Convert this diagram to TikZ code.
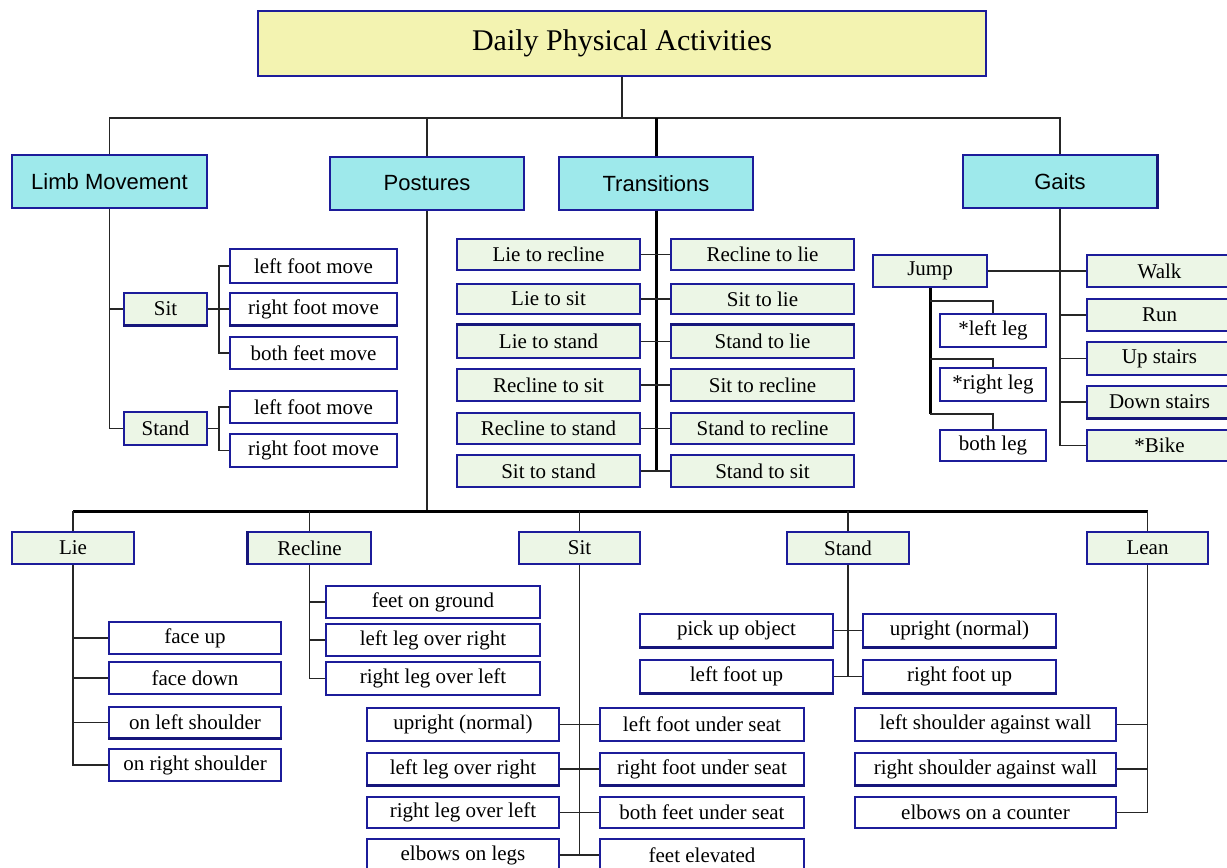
\documentclass[tikz,border=0pt]{standalone}
\usepackage{fontspec}
\setmainfont{Liberation Serif}
\setsansfont{Liberation Sans}
\definecolor{bordc}{HTML}{1C1C9A}
\definecolor{cyanc}{HTML}{9EE9EB}
\definecolor{greenc}{HTML}{ECF6E6}
\definecolor{yellowc}{HTML}{F3F3B1}
\newcommand\mybox[7]{\node[#6,minimum width={#4-#2},minimum height={#5-#3}] (#1) at ({(#2+#4)/2},{(#3+#5)/2}) {#7};}
\begin{document}
\begin{tikzpicture}[x=1pt,y=-1pt,
  base/.style={draw=bordc,line width=1.3pt,inner sep=0pt,font=\fontsize{21}{24}\selectfont},
  hdr/.style={base,fill=cyanc,font=\sffamily\fontsize{22}{26}\selectfont},
  grn/.style={base,fill=greenc},
  wht/.style={base,fill=white},
  ttl/.style={base,fill=yellowc,font=\fontsize{30}{34}\selectfont},
  conn/.style={line width=1.3pt,draw=black!85},
  thk/.style={line width=3pt,draw=black},
  edge/.style={line width=3pt,draw=bordc!80!black}]
\useasboundingbox (0,0) rectangle (1227,868);
% title and headers
\mybox{title}{258}{11}{986}{76}{ttl}{Daily Physical Activities}
\mybox{limb}{12}{155}{207}{208}{hdr}{Limb Movement}
\mybox{post}{330}{157}{524}{210}{hdr}{Postures}
\mybox{trans}{559}{157}{753}{210}{hdr}{Transitions}
\mybox{gaits}{963}{155}{1157}{208}{hdr}{Gaits}
\coordinate (tb) at (622,118);
\draw[conn] (title.south) -- (tb);
\draw[conn] (limb.north) -- (limb.north |- tb) -- (gaits.north |- tb) -- (gaits.north);
\draw[conn] (post.north) -- (post.north |- tb);
\draw[thk] (trans.north) -- (trans.north |- tb);
% limb movement
\mybox{lsit}{124}{293}{207}{325}{grn}{Sit}
\mybox{lstand}{124}{412}{207}{445}{grn}{Stand}
\mybox{lc1}{230}{249}{397}{283}{wht}{left foot move}
\mybox{lc2}{230}{293}{397}{325}{wht}{right foot move}
\mybox{lc3}{230}{337}{397}{369}{wht}{both feet move}
\mybox{ls1}{230}{391}{397}{423}{wht}{left foot move}
\mybox{ls2}{230}{434}{397}{467}{wht}{right foot move}
\draw[conn] (limb.south) |- (lsit.west);
\draw[conn] (limb.south) |- (lstand.west);
\draw[conn] (lsit.east) -- (lc2.west);
\coordinate (sj) at (219,309);
\draw[conn] (lc1.west) -| (sj) |- (lc3.west);
\coordinate (tj) at (219,428.5);
\draw[conn] (lstand.east) -- (tj);
\draw[conn] (ls1.west) -| (tj) |- (ls2.west);
% transitions
\mybox{t1l}{457}{239}{640}{270}{grn}{Lie to recline}
\mybox{t2l}{457}{284}{640}{314}{grn}{Lie to sit}
\mybox{t3l}{457}{325}{640}{358}{grn}{Lie to stand}
\mybox{t4l}{457}{369}{640}{401}{grn}{Recline to sit}
\mybox{t5l}{457}{413}{640}{444}{grn}{Recline to stand}
\mybox{t6l}{457}{455}{640}{487}{grn}{Sit to stand}
\mybox{t1r}{671}{239}{854}{270}{grn}{Recline to lie}
\mybox{t2r}{671}{284}{854}{314}{grn}{Sit to lie}
\mybox{t3r}{671}{325}{854}{358}{grn}{Stand to lie}
\mybox{t4r}{671}{369}{854}{401}{grn}{Sit to recline}
\mybox{t5r}{671}{413}{854}{444}{grn}{Stand to recline}
\mybox{t6r}{671}{455}{854}{487}{grn}{Stand to sit}
\draw[thk] (trans.south) -- (trans.south |- t6l.east);
\foreach \i in {1,...,6}{\draw[conn] (t\i l.east) -- (t\i r.west);}
% gaits
\mybox{jump}{873}{255}{987}{287}{grn}{Jump}
\mybox{walk}{1087}{255}{1232}{287}{grn}{Walk}
\mybox{run}{1087}{299}{1232}{331}{grn}{Run}
\mybox{up}{1087}{342}{1232}{375}{grn}{Up stairs}
\mybox{down}{1087}{386}{1232}{418}{grn}{Down stairs}
\mybox{bike}{1087}{430}{1232}{461}{grn}{*Bike}
\mybox{jl}{940}{314}{1046}{347}{wht}{*left leg}
\mybox{jr}{940}{368}{1046}{401}{wht}{*right leg}
\mybox{jb}{940}{430}{1046}{461}{wht}{both leg}
\draw[conn] (gaits.south) |- (bike.west);
\draw[conn] (jump.east) -- (walk.west);
\foreach \n in {run,up,down}{\draw[conn] (gaits.south |- \n.west) -- (\n.west);}
\coordinate (j1) at (930,301);
\coordinate (j2) at (930,359);
\coordinate (j3) at (930,414);
\draw[thk] (jump.south) -- (j3);
\draw[conn] (j1) -| (jl.north);
\draw[conn] (j2) -| (jr.north);
\draw[conn] (j3) -| (jb.north);
% postures
\mybox{plie}{12}{532}{134}{564}{grn}{Lie}
\mybox{prec}{248}{532}{371}{564}{grn}{Recline}
\mybox{psit}{519}{532}{640}{564}{grn}{Sit}
\mybox{pstand}{787}{532}{909}{564}{grn}{Stand}
\mybox{plean}{1087}{532}{1208}{564}{grn}{Lean}
\coordinate (pb) at (427,511);
\draw[conn] (post.south) -- (pb);
\draw[thk] (plie.north |- pb) -- (plean.north |- pb);
\foreach \n in {plie,prec,psit,pstand,plean}{\draw[conn] (\n.north) -- (\n.north |- pb);}
% lie
\mybox{lie1}{109}{622}{281}{654}{wht}{face up}
\mybox{lie2}{109}{662}{281}{694}{wht}{face down}
\mybox{lie3}{109}{707}{281}{738}{wht}{on left shoulder}
\mybox{lie4}{109}{749}{281}{781}{wht}{on right shoulder}
\draw[conn] (plie.south) |- (lie4.west);
\foreach \n in {lie1,lie2,lie3}{\draw[conn] (plie.south |- \n.west) -- (\n.west);}
% recline
\mybox{rc1}{326}{586}{540}{618}{wht}{feet on ground}
\mybox{rc2}{326}{624}{540}{656}{wht}{left leg over right}
\mybox{rc3}{326}{662}{540}{695}{wht}{right leg over left}
\draw[conn] (prec.south) |- (rc3.west);
\foreach \n in {rc1,rc2}{\draw[conn] (prec.south |- \n.west) -- (\n.west);}
% sit
\mybox{s1l}{367}{708}{559}{741}{wht}{upright (normal)}
\mybox{s2l}{367}{753}{559}{785}{wht}{left leg over right}
\mybox{s3l}{367}{797}{559}{828}{wht}{right leg over left}
\mybox{s4l}{367}{839}{559}{871}{wht}{elbows on legs}
\mybox{s1r}{600}{708}{804}{741}{wht}{left foot under seat}
\mybox{s2r}{600}{753}{804}{785}{wht}{right foot under seat}
\mybox{s3r}{600}{797}{804}{828}{wht}{both feet under seat}
\mybox{s4r}{600}{839}{804}{871}{wht}{feet elevated}
\draw[conn] (psit.south) -- (psit.south |- s4l.east);
\foreach \i in {1,...,4}{\draw[conn] (s\i l.east) -- (s\i r.west);}
% stand
\mybox{st1l}{640}{614}{833}{647}{wht}{pick up object}
\mybox{st2l}{640}{660}{833}{693}{wht}{left foot up}
\mybox{st1r}{863}{614}{1056}{647}{wht}{upright (normal)}
\mybox{st2r}{863}{660}{1056}{693}{wht}{right foot up}
\draw[conn] (pstand.south) -- (pstand.south |- st2l.east);
\foreach \i in {1,2}{\draw[conn] (st\i l.east) -- (st\i r.west);}
% lean
\mybox{ln1}{855}{708}{1116}{741}{wht}{left shoulder against wall}
\mybox{ln2}{855}{753}{1116}{785}{wht}{right shoulder against wall}
\mybox{ln3}{855}{797}{1116}{828}{wht}{elbows on a counter}
\draw[conn] (plean.south) |- (ln3.east);
\foreach \n in {ln1,ln2}{\draw[conn] (plean.south |- \n.east) -- (\n.east);}
% heavier box edges (shadow look)
\foreach \n in {lsit,lc2,down,lie3,s2l,s2r,st1l,st2l,st1r,st2r,ln2}{\draw[edge] (\n.south west) -- (\n.south east);}
\foreach \n in {t3l,t3r}{\draw[edge] (\n.north west) -- (\n.north east);}
\draw[edge] (gaits.north east) -- (gaits.south east);
\draw[edge] (prec.north west) -- (prec.south west);
\end{tikzpicture}
\end{document}
